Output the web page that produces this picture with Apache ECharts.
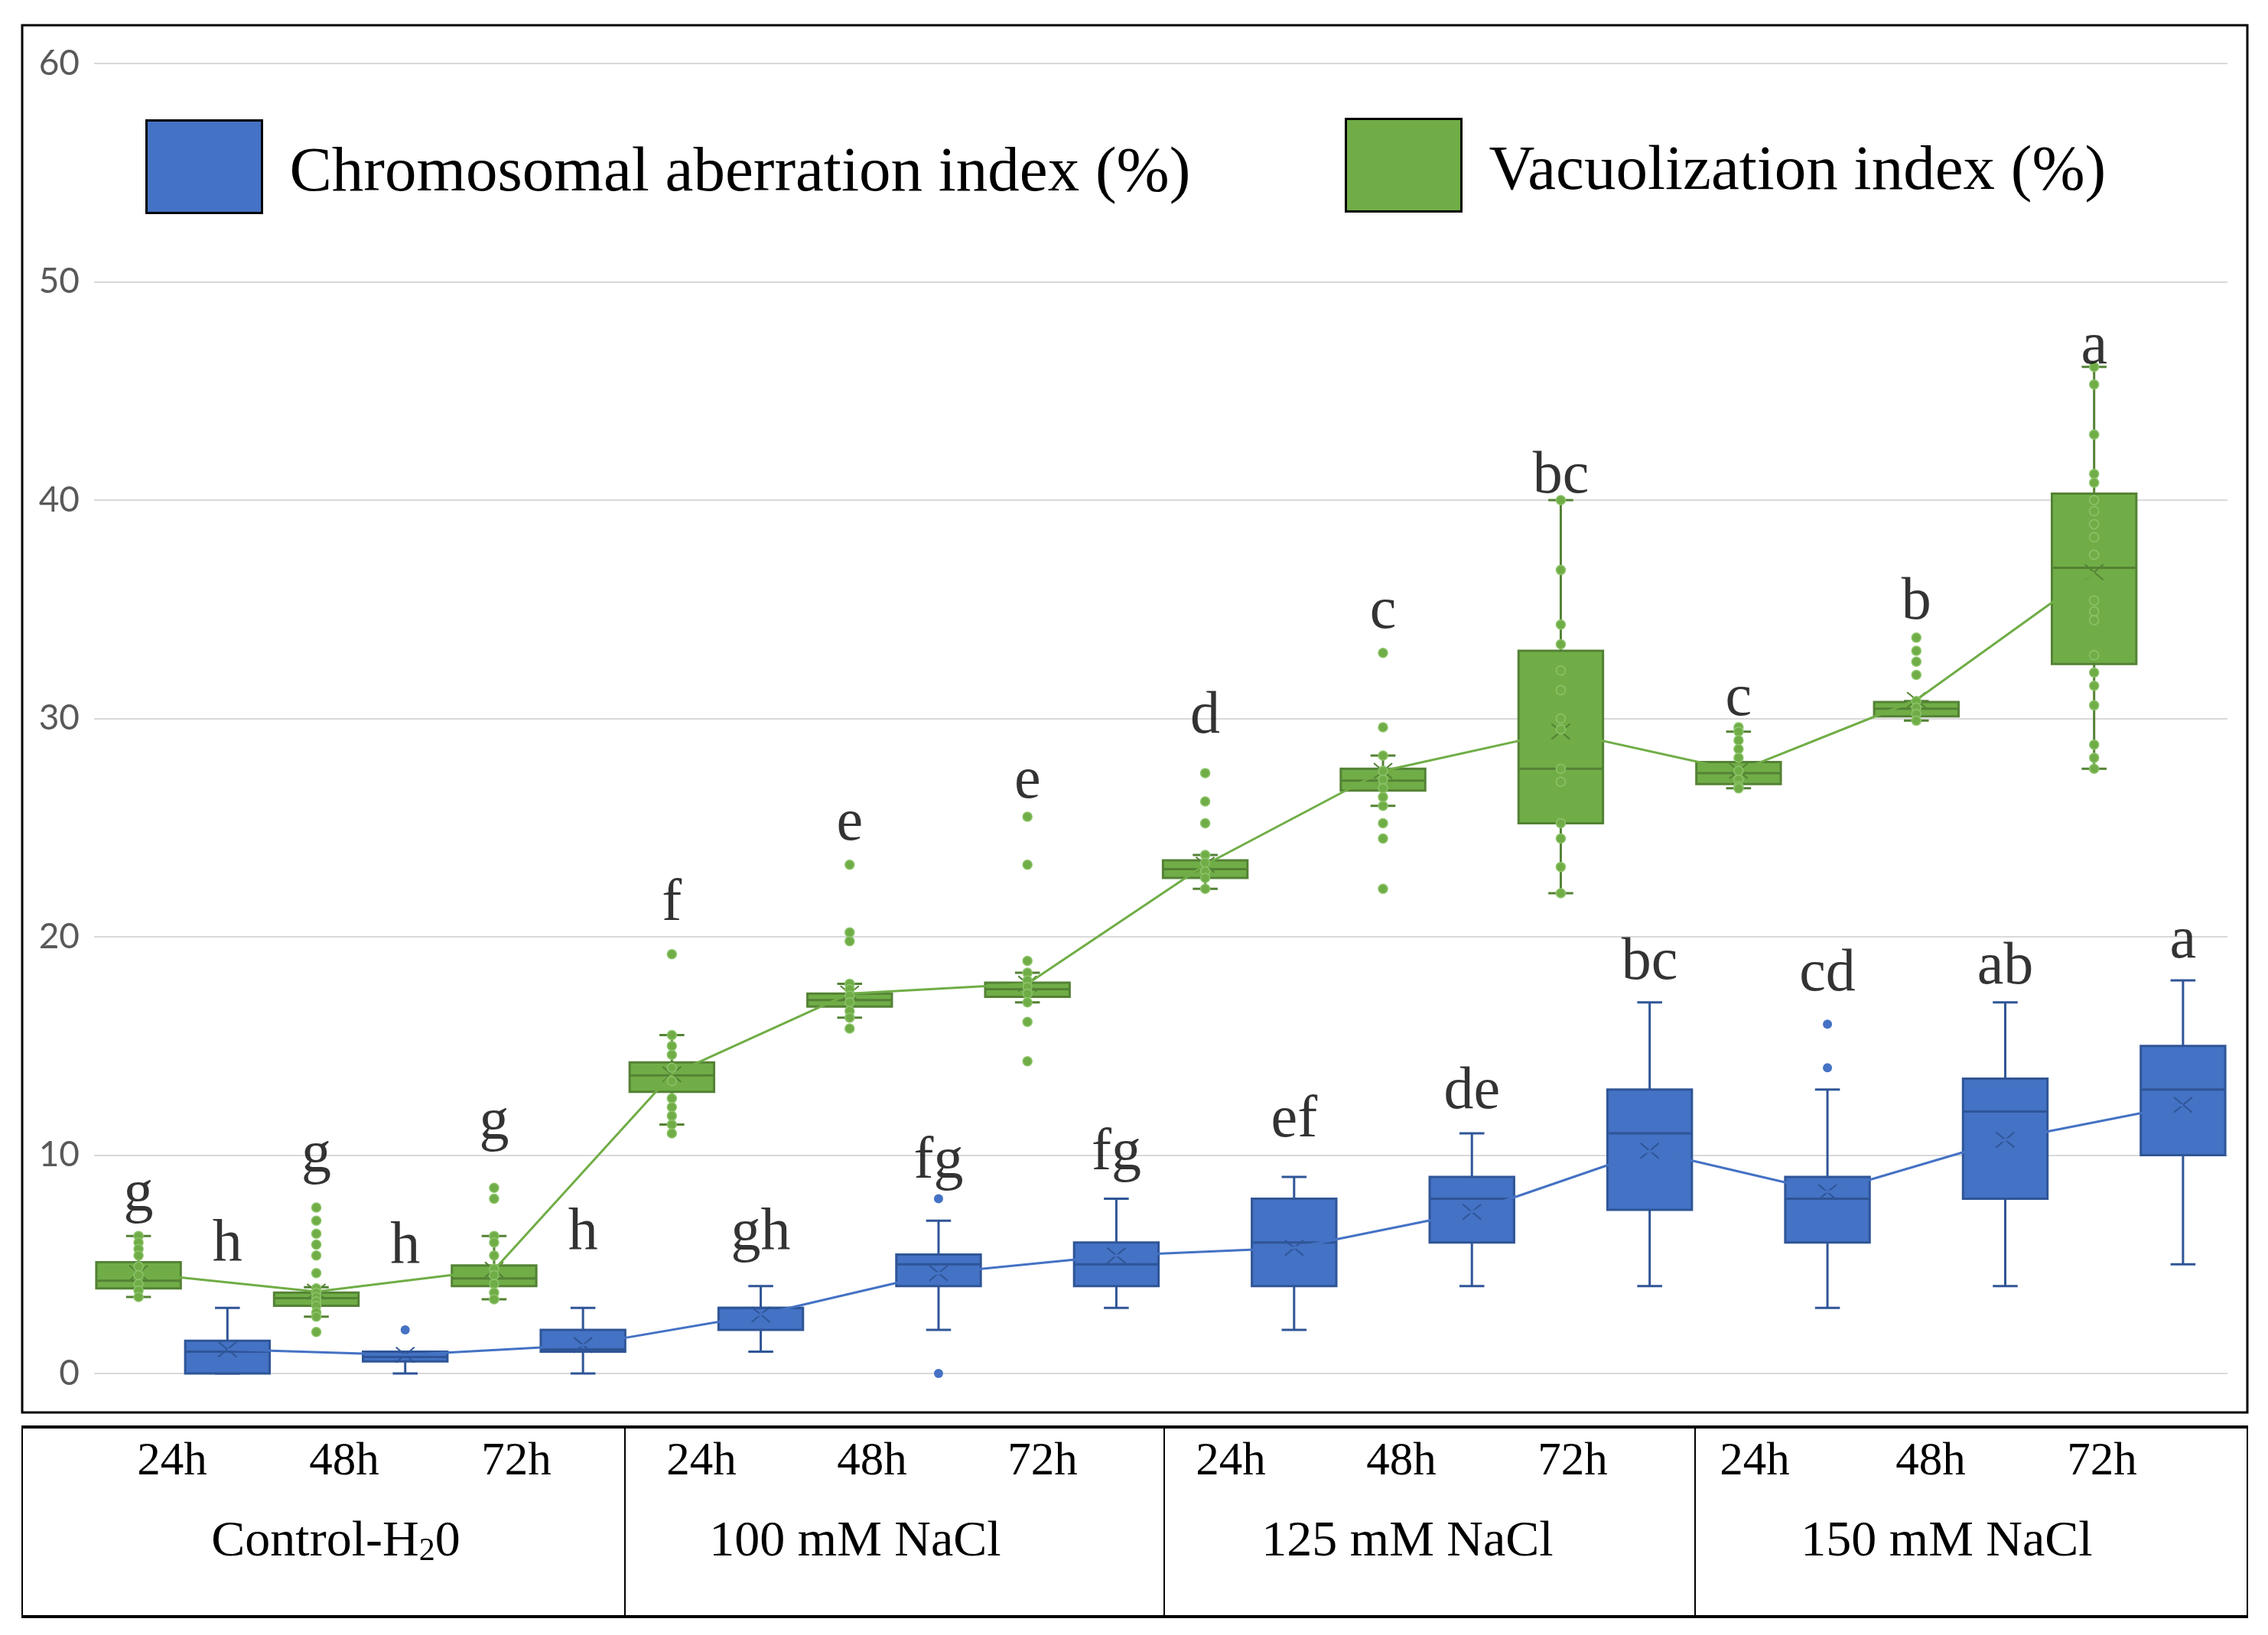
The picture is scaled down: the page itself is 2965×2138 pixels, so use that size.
<!DOCTYPE html>
<html><head><meta charset="utf-8">
<script src="https://cdn.jsdelivr.net/npm/echarts@6/dist/echarts.min.js"></script>
<style>html,body{margin:0;padding:0;background:#fff}#c{width:2965px;height:2138px}</style>
</head><body><div id="c"></div>
<script>
// ---------------- data ----------------
const categories = ['Control 24h','Control 48h','Control 72h','100 mM 24h','100 mM 48h','100 mM 72h',
                    '125 mM 24h','125 mM 48h','125 mM 72h','150 mM 24h','150 mM 48h','150 mM 72h'];
const timeLabels = ['24h', '48h', '72h'];
const groupLabels = ['Control-H20', '100 mM NaCl', '125 mM NaCl', '150 mM NaCl'];
const yMin = 0, yMax = 60, yStep = 10;

const seriesNames = ['Chromosomal aberration index (%)', 'Vacuolization index (%)'];

// [min, Q1, median, Q3, max]
const aberrationBoxes = [
  [0, 0, 1.0, 1.5, 3.0],
  [0, 0.55, 0.75, 1.0, 1.0],
  [0, 1.0, 1.1, 2.0, 3.0],
  [1.0, 2.0, 3.0, 3.0, 4.0],
  [2.0, 4.0, 5.0, 5.45, 7.0],
  [3.0, 4.0, 5.0, 6.0, 8.0],
  [2.0, 4.0, 6.0, 8.0, 9.0],
  [4.0, 6.0, 8.0, 9.0, 11.0],
  [4.0, 7.5, 11.0, 13.0, 17.0],
  [3.0, 6.0, 8.0, 9.0, 13.0],
  [4.0, 8.0, 12.0, 13.5, 17.0],
  [5.0, 10.0, 13.0, 15.0, 18.0]
];
const aberrationMeans = [1.1, 0.85, 1.3, 2.7, 4.6, 5.4, 5.75, 7.4, 10.2, 8.3, 10.7, 12.3];
const aberrationPoints = [[], [2.0], [], [], [8.0, 0.0], [], [], [], [], [16.0, 14.0], [], []];
const aberrationLetters = ['h','h','h','gh','fg','fg','ef','de','bc','cd','ab','a'];
// value level at which each significance letter sits
const aberrationLetterLevels = [4.3, 4.2, 4.8, 4.8, 8.1, 8.5, 10.0, 11.3, 17.2, 16.7, 17.0, 18.2];

const vacuolBoxes = [
  [3.5, 3.9, 4.25, 5.1, 6.3],
  [2.6, 3.1, 3.45, 3.7, 3.95],
  [3.4, 4.0, 4.35, 4.95, 6.3],
  [11.4, 12.9, 13.65, 14.25, 15.5],
  [16.3, 16.8, 17.1, 17.4, 17.85],
  [17.0, 17.25, 17.6, 17.9, 18.35],
  [22.2, 22.7, 23.1, 23.5, 23.75],
  [26.0, 26.7, 27.15, 27.7, 28.3],
  [22.0, 25.2, 27.7, 33.1, 40.0],
  [26.8, 27.0, 27.5, 28.0, 29.4],
  [29.9, 30.1, 30.45, 30.75, 30.8],
  [27.7, 32.5, 36.9, 40.3, 46.1]
];
const vacuolMeans = [4.6, 3.75, 4.75, 13.7, 17.4, 17.85, 23.3, 27.6, 29.4, 27.6, 30.85, 36.7];
const vacuolPoints = [
  [6.3, 6.0, 5.7, 5.4, 4.9, 4.5, 4.1, 3.8, 3.5],
  [7.6, 7.0, 6.4, 5.9, 5.4, 4.6, 3.9, 3.7, 3.5, 3.3, 3.1, 2.8, 2.6, 1.9],
  [8.5, 8.0, 6.3, 6.0, 5.4, 4.8, 4.5, 4.1, 3.7, 3.4],
  [19.2, 15.5, 15.0, 14.6, 14.0, 13.4, 12.6, 12.2, 11.8, 11.4, 11.0],
  [23.3, 20.2, 19.8, 17.85, 17.6, 17.3, 17.0, 16.6, 16.3, 15.8],
  [25.5, 23.3, 18.9, 18.35, 18.0, 17.7, 17.4, 17.0, 16.1, 14.3],
  [27.5, 26.2, 25.2, 23.75, 23.4, 23.0, 22.7, 22.2],
  [33.0, 29.6, 28.3, 27.6, 27.2, 26.8, 26.4, 26.0, 25.2, 24.5, 22.2],
  [40.0, 36.8, 34.3, 33.4, 32.2, 31.3, 30.0, 29.5, 27.7, 27.1, 25.2, 24.5, 23.2, 22.0],
  [29.6, 29.4, 29.0, 28.6, 28.2, 27.6, 27.2, 26.9, 26.8],
  [33.7, 33.1, 32.6, 32.0, 30.8, 30.5, 30.2, 29.9],
  [46.1, 45.3, 43.0, 41.2, 40.8, 40.0, 39.5, 38.9, 38.3, 37.5, 35.4, 34.9, 34.5, 32.9, 32.1, 31.5, 30.6, 28.8, 28.2, 27.7]
];
const vacuolLetters = ['g','g','g','f','e','e','d','c','bc','c','b','a'];
const vacuolLetterLevels = [6.6, 8.4, 9.9, 19.9, 23.6, 25.5, 28.5, 33.3, 39.5, 29.3, 33.7, 45.4];

// ---------------- style / layout ----------------
const BLUE = '#4472C4', BLUE_DARK = '#2F5597';
const GREEN = '#70AD47', GREEN_DARK = '#548235';
const SERIF = '"Liberation Serif", "DejaVu Serif", serif';
const OFFSET = 0.25;      // box offset within a category (category units)
const BOX_W = 0.475;      // box width (category units)
const CAP_W = 0.14;       // whisker cap width (category units)

const layout = {
  chartBorder: {x: 29, y: 33, w: 2909, h: 1814},
  table: {left: 28, right: 2939, top: 1866, bottom: 2114, dividers: [817, 1522, 2216]},
  timeY: 1912, groupY: 2017,
  timeX: [[225, 450, 675], [917, 1140, 1363], [1609, 1832, 2056], [2294, 2524, 2748]],
  groupX: [439, 1118, 1840, 2545]
};

function boxData(boxes, means) {
  return boxes.map((b, i) => [i].concat(b, [means[i]]));
}
function makeRender(fill, stroke, off) {
  return function (params, api) {
    const x = api.value(0) + off;
    const p = k => api.coord([x, api.value(k)]);
    const pMin = p(1), pQ1 = p(2), pMd = p(3), pQ3 = p(4), pMax = p(5), pMean = p(6);
    const bw = api.size([BOX_W, 0])[0];
    const cw = api.size([CAP_W, 0])[0];
    const cx = pQ1[0];
    const ls = {stroke: stroke, lineWidth: 3};
    const mx = 12, my = 10;
    return {
      type: 'group',
      children: [
        {type: 'line', shape: {x1: cx, y1: pQ3[1], x2: cx, y2: pMax[1]}, style: ls},
        {type: 'line', shape: {x1: cx, y1: pQ1[1], x2: cx, y2: pMin[1]}, style: ls},
        {type: 'line', shape: {x1: cx - cw / 2, y1: pMax[1], x2: cx + cw / 2, y2: pMax[1]}, style: ls},
        {type: 'line', shape: {x1: cx - cw / 2, y1: pMin[1], x2: cx + cw / 2, y2: pMin[1]}, style: ls},
        {type: 'rect', shape: {x: cx - bw / 2, y: pQ3[1], width: bw, height: Math.max(pQ1[1] - pQ3[1], 1)},
          style: {fill: fill, stroke: stroke, lineWidth: 3}},
        {type: 'line', shape: {x1: cx - bw / 2, y1: pMd[1], x2: cx + bw / 2, y2: pMd[1]}, style: ls},
        {type: 'line', shape: {x1: cx - mx, y1: pMean[1] - my, x2: cx + mx, y2: pMean[1] + my}, style: {stroke: stroke, lineWidth: 2}},
        {type: 'line', shape: {x1: cx - mx, y1: pMean[1] + my, x2: cx + mx, y2: pMean[1] - my}, style: {stroke: stroke, lineWidth: 2}}
      ]
    };
  };
}
function pointData(points, off) {
  const out = [];
  points.forEach((arr, i) => arr.forEach(v => out.push([i + off, v])));
  return out;
}
function letterData(levels, letters, off) {
  return letters.map((l, i) => [i + off, levels[i], l]);
}
function meanData(means, off) { return means.map((m, i) => [i + off, m]); }

// ---------------- graphic: borders + table ----------------
const T = layout.table;
const graphics = [
  {type: 'rect', shape: {x: layout.chartBorder.x, y: layout.chartBorder.y, width: layout.chartBorder.w, height: layout.chartBorder.h},
    style: {fill: 'none', stroke: '#000', lineWidth: 3}, silent: true},
  {type: 'line', shape: {x1: T.left, y1: T.top, x2: T.right, y2: T.top}, style: {stroke: '#000', lineWidth: 4}},
  {type: 'line', shape: {x1: T.left, y1: T.bottom, x2: T.right, y2: T.bottom}, style: {stroke: '#000', lineWidth: 4}},
  {type: 'line', shape: {x1: T.left + 1, y1: T.top, x2: T.left + 1, y2: T.bottom}, style: {stroke: '#000', lineWidth: 2}},
  {type: 'line', shape: {x1: T.right - 1, y1: T.top, x2: T.right - 1, y2: T.bottom}, style: {stroke: '#000', lineWidth: 2}}
];
T.dividers.forEach(dx => graphics.push({type: 'line', shape: {x1: dx, y1: T.top, x2: dx, y2: T.bottom}, style: {stroke: '#000', lineWidth: 2}}));
groupLabels.forEach((g, gi) => {
  layout.timeX[gi].forEach((tx, ti) => graphics.push({
    type: 'text', x: tx, y: layout.timeY,
    style: {text: timeLabels[ti], fontFamily: SERIF, fontSize: 61, fill: '#000', textAlign: 'center', textVerticalAlign: 'middle'}
  }));
  let txt = g, rich;
  if (gi === 0) {
    txt = '{a|Control-H}{s|2}{a|0}';
    rich = {a: {fontFamily: SERIF, fontSize: 66, fill: '#000'}, s: {fontFamily: SERIF, fontSize: 42, fill: '#000', verticalAlign: 'bottom'}};
  }
  graphics.push({
    type: 'text', x: layout.groupX[gi], y: layout.groupY,
    style: Object.assign({text: txt, fontFamily: SERIF, fontSize: 66, fill: '#000', textAlign: 'center', textVerticalAlign: 'middle'}, rich ? {rich: rich} : {})
  });
});

const legendText = {
  fontFamily: SERIF, fontSize: 83, color: '#000',
  rich: {gap: {width: 31}, t: {fontFamily: SERIF, fontSize: 83, color: '#000', padding: [18, 0, 0, 0]}}
};

const option = {
  animation: false,
  backgroundColor: '#fff',
  grid: {left: 123, right: 53, top: 83, bottom: 342, containLabel: false},
  legend: [
    {left: 185, top: 151, itemWidth: 151, itemHeight: 121, icon: 'rect',
      data: [{name: seriesNames[0], itemStyle: {color: BLUE, borderColor: '#000', borderWidth: 3}}],
      formatter: n => '{gap|}{t|' + n + '}', textStyle: legendText},
    {left: 1753, top: 149, itemWidth: 151, itemHeight: 121, icon: 'rect',
      data: [{name: seriesNames[1], itemStyle: {color: GREEN, borderColor: '#000', borderWidth: 3}}],
      formatter: n => '{gap|}{t|' + n + '}', textStyle: legendText}
  ],
  xAxis: {type: 'value', min: -0.5, max: categories.length - 0.5, show: false, splitLine: {show: false}},
  yAxis: {
    type: 'value', min: yMin, max: yMax, interval: yStep,
    axisLine: {show: false}, axisTick: {show: false},
    axisLabel: {fontFamily: 'Lato, "Open Sans", sans-serif', fontSize: 46, color: '#595959', margin: 19},
    splitLine: {lineStyle: {color: '#D9D9D9', width: 2}}
  },
  graphic: graphics,
  series: [
    {name: seriesNames[1], type: 'custom', renderItem: makeRender(GREEN, GREEN_DARK, -OFFSET),
      data: boxData(vacuolBoxes, vacuolMeans), encode: {x: 0, y: [1, 2, 3, 4, 5]}, itemStyle: {color: GREEN}, z: 2},
    {name: seriesNames[0], type: 'custom', renderItem: makeRender(BLUE, BLUE_DARK, OFFSET),
      data: boxData(aberrationBoxes, aberrationMeans), encode: {x: 0, y: [1, 2, 3, 4, 5]}, itemStyle: {color: BLUE}, z: 2},
    {name: seriesNames[1], type: 'line', data: meanData(vacuolMeans, -OFFSET), showSymbol: false, symbol: 'none',
      lineStyle: {color: GREEN, width: 3}, itemStyle: {color: GREEN}, z: 3},
    {name: seriesNames[0], type: 'line', data: meanData(aberrationMeans, OFFSET), showSymbol: false, symbol: 'none',
      lineStyle: {color: BLUE, width: 3}, itemStyle: {color: BLUE}, z: 3},
    {name: seriesNames[1], type: 'scatter', data: pointData(vacuolPoints, -OFFSET), symbolSize: 12,
      itemStyle: {color: GREEN, borderColor: '#8CC46A', borderWidth: 1.5, opacity: 1}, z: 4},
    {name: seriesNames[0], type: 'scatter', data: pointData(aberrationPoints, OFFSET), symbolSize: 12,
      itemStyle: {color: BLUE, opacity: 1}, z: 4},
    {name: seriesNames[1], type: 'scatter', data: letterData(vacuolLetterLevels, vacuolLetters, -OFFSET), symbolSize: 0,
      encode: {x: 0, y: 1}, itemStyle: {color: GREEN},
      label: {show: true, position: 'top', distance: 6, formatter: p => p.value[2], fontFamily: SERIF, fontSize: 78, color: '#000'}, z: 5},
    {name: seriesNames[0], type: 'scatter', data: letterData(aberrationLetterLevels, aberrationLetters, OFFSET), symbolSize: 0,
      encode: {x: 0, y: 1}, itemStyle: {color: BLUE},
      label: {show: true, position: 'top', distance: 6, formatter: p => p.value[2], fontFamily: SERIF, fontSize: 78, color: '#000'}, z: 5}
  ]
};
const chart = echarts.init(document.getElementById('c'), null, {renderer: 'canvas'});
chart.setOption(option);
</script></body></html>
